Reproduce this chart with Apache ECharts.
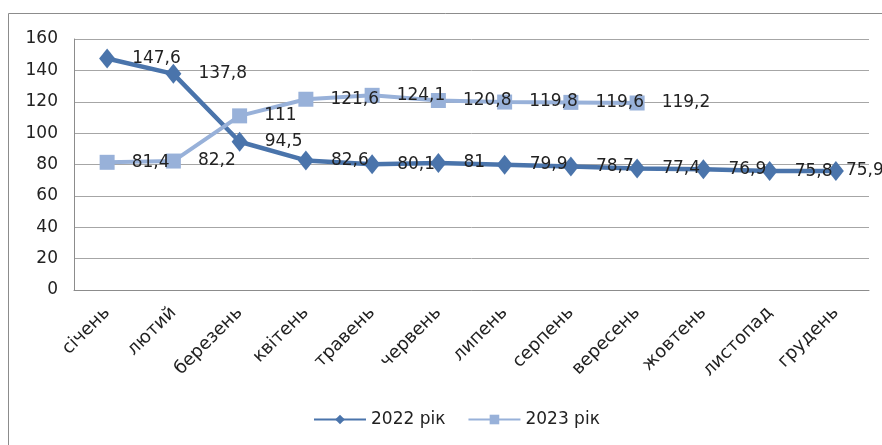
<!DOCTYPE html>
<html>
<head>
<meta charset="utf-8">
<script src="https://cdn.jsdelivr.net/npm/echarts@6/dist/echarts.min.js"></script>
<style>
  html, body { margin: 0; padding: 0; background: #fff; }
  #chart { width: 882px; height: 445px; }
</style>
</head>
<body>
<div id="chart"></div>
<script>
  var months = ['січень', 'лютий', 'березень', 'квітень', 'травень', 'червень',
                'липень', 'серпень', 'вересень', 'жовтень', 'листопад', 'грудень'];
  var values2022 = [147.6, 137.8, 94.5, 82.6, 80.1, 81, 79.9, 78.7, 77.4, 76.9, 75.8, 75.9];
  var values2023 = [81.4, 82.2, 111, 121.6, 124.1, 120.8, 119.8, 119.6, 119.2];
  var yTicks = [0, 20, 40, 60, 80, 100, 120, 140, 160];

  var fontName = '"DejaVu Sans", "Liberation Sans", sans-serif';
  var dark = '#4a74ab';
  var light = '#98b1d9';

  // підписи з комою замість крапки
  function commaLabel(p) {
    return String(p.value).replace('.', ',');
  }

  // останній підпис 2022 притиснутий ближче до точки, як в Excel
  var data2022 = values2022.map(function (v, i) {
    if (i === values2022.length - 1) {
      return { value: v, label: { distance: 2 } };
    }
    return v;
  });

  var myChart = echarts.init(document.getElementById('chart'));
  var option = {
    animation: false,
    backgroundColor: '#fff',
    textStyle: { fontFamily: fontName },
    graphic: [{
      type: 'rect',
      shape: { x: 8.5, y: 13.5, width: 900, height: 500 },
      style: { fill: 'none', stroke: '#8c8c8c', lineWidth: 1 },
      silent: true
    }],
    grid: {
      left: 74,
      top: 39,
      right: 13,
      bottom: 155
    },
    legend: {
      bottom: 12,
      left: 308,
      itemWidth: 52,
      itemHeight: 12,
      itemGap: 22,
      textStyle: { fontSize: 17, color: '#222', fontFamily: fontName },
      data: ['2022 рік', '2023 рік']
    },
    xAxis: {
      type: 'category',
      boundaryGap: true,
      data: months,
      axisLine: { show: true, lineStyle: { color: '#8c8c8c', width: 1 } },
      axisTick: { show: false },
      axisLabel: {
        interval: 0,
        rotate: 45,
        margin: 20,
        fontSize: 18,
        color: '#222',
        fontFamily: fontName
      }
    },
    yAxis: {
      type: 'value',
      min: yTicks[0],
      max: yTicks[yTicks.length - 1],
      interval: 20,
      axisLine: { show: true, lineStyle: { color: '#8c8c8c', width: 1 } },
      axisTick: { show: false },
      axisLabel: { fontSize: 17, color: '#222', margin: 16, fontFamily: fontName },
      splitLine: { lineStyle: { color: '#a6a6a6', width: 1 } }
    },
    series: [
      {
        name: '2022 рік',
        type: 'line',
        data: data2022,
        symbol: 'diamond',
        symbolSize: [16, 20],
        itemStyle: { color: dark },
        lineStyle: { color: dark, width: 4.5 },
        label: {
          show: true,
          position: 'right',
          distance: 17,
          fontSize: 17,
          color: '#222',
          fontFamily: fontName,
          formatter: commaLabel
        }
      },
      {
        name: '2023 рік',
        type: 'line',
        data: values2023,
        symbol: 'rect',
        symbolSize: 15,
        itemStyle: { color: light },
        lineStyle: { color: light, width: 4 },
        label: {
          show: true,
          position: 'right',
          distance: 17,
          fontSize: 17,
          color: '#222',
          fontFamily: fontName,
          formatter: commaLabel
        }
      }
    ]
  };
  myChart.setOption(option);
</script>
</body>
</html>
